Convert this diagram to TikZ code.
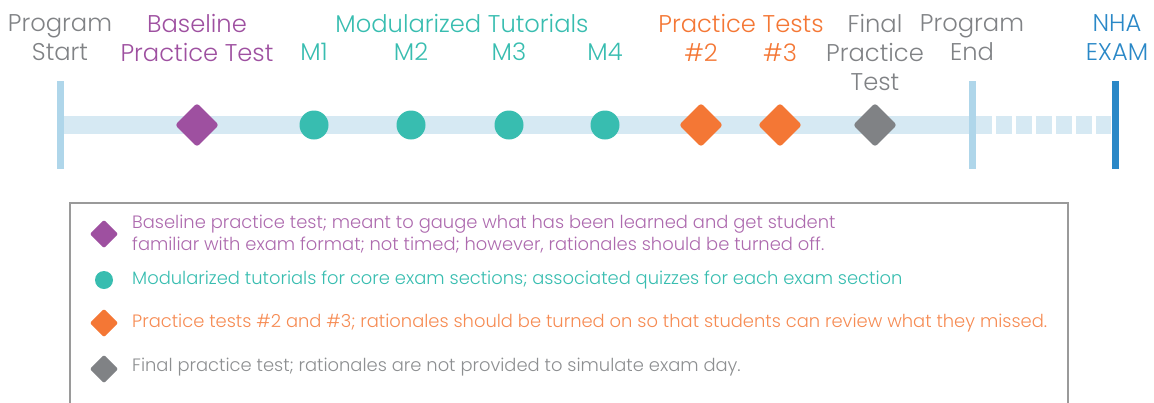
\documentclass[tikz,border=0pt]{standalone}
\usepackage{fontspec}
\IfFontExistsTF{Poppins Light}{\setmainfont{Poppins Light}}{\setmainfont{Poppins}}
\usetikzlibrary{positioning,backgrounds}
\definecolor{tlpurple}{HTML}{9E50A0}
\definecolor{tlteal}{HTML}{38BDB0}
\definecolor{tlorange}{HTML}{F47735}
\definecolor{tlgrey}{HTML}{808285}
\definecolor{tlblue}{HTML}{2A88C7}
\definecolor{tlbar}{HTML}{D6E9F3}
\definecolor{tlline}{HTML}{AFD6EA}
\definecolor{tlframe}{HTML}{9A9A9A}

\begin{document}
\begin{tikzpicture}[x=1pt, y=1pt]
    \tikzstyle{milestone} = [rectangle, draw=none, minimum width=7pt, minimum height=88pt, inner sep=0pt]
    \tikzstyle{testmark}  = [rectangle, rotate=45, rounded corners=3pt, minimum size=31pt, inner sep=0pt]
    \tikzstyle{tutmark}   = [circle, minimum size=29pt, inner sep=0pt]
    \tikzstyle{keytest}   = [rectangle, rotate=45, rounded corners=2pt, minimum size=20pt, inner sep=0pt]
    \tikzstyle{keytut}    = [circle, minimum size=18pt, inner sep=0pt]
    \tikzstyle{toplabel}  = [anchor=north, align=center, inner sep=0pt, font=\fontsize{24.2}{29}\selectfont]
    \tikzstyle{keytext}   = [anchor=west, align=left, inner sep=0pt, font=\fontsize{17.9}{22}\selectfont]
    \tikzstyle{bar}       = [line width=18pt, tlbar]

    \path[use as bounding box, clip] (0,0) rectangle (1154,-402);

    \coordinate (labeltop) at (0,-14);
    \coordinate (subtop) at (0,-43);

    % Timeline
    \node [milestone, fill=tlline] (start) at (60,-125) {};
    \node [milestone, fill=tlline] (progend) at (972,-125) {};
    \node [milestone, fill=tlblue] (exam) at (1115,-125) {};
    \begin{scope}[on background layer]
        \draw [bar] (start.center) -- (progend.center);
        \draw [bar, dash pattern=on 16pt off 4pt] (progend.east) -- (exam.west);
    \end{scope}

    \node [testmark, fill=tlpurple] (baseline) at (197,-125) {};
    \node [tutmark, fill=tlteal] (m1) at (314,-125) {};
    \node [tutmark, fill=tlteal] (m2) at (411,-125) {};
    \node [tutmark, fill=tlteal] (m3) at (509,-125) {};
    \node [tutmark, fill=tlteal] (m4) at (605,-125) {};
    \node [testmark, fill=tlorange] (pt2) at (701,-125) {};
    \node [testmark, fill=tlorange] (pt3) at (780,-125) {};
    \node [testmark, fill=tlgrey] (final) at (875,-125) {};

    % Labels
    \node [toplabel, text=tlgrey] (startlbl) at (start |- labeltop) {Program\\Start};
    \node [toplabel, text=tlpurple] (baselinelbl) at (baseline |- labeltop) {Baseline\\Practice Test};
    \node [toplabel, text=tlteal] (tutlbl) at (462,-14) {Modularized Tutorials};
    \node [toplabel, text=tlteal] (m1lbl) at (m1 |- subtop) {M1};
    \node [toplabel, text=tlteal] (m2lbl) at (m2 |- subtop) {M2};
    \node [toplabel, text=tlteal] (m3lbl) at (m3 |- subtop) {M3};
    \node [toplabel, text=tlteal] (m4lbl) at (m4 |- subtop) {M4};
    \node [toplabel, text=tlorange] (ptlbl) at (741,-14) {Practice Tests};
    \node [toplabel, text=tlorange] (pt2lbl) at (pt2 |- subtop) {\#2};
    \node [toplabel, text=tlorange] (pt3lbl) at (pt3 |- subtop) {\#3};
    \node [toplabel, text=tlgrey] (finallbl) at (final |- labeltop) {Final\\Practice\\Test};
    \node [toplabel, text=tlgrey] (endlbl) at (progend |- labeltop) {Program\\End};
    \node [toplabel, text=tlblue] (examlbl) at (1117,-14) {NHA\\EXAM};

    % Key
    \draw [tlframe, line width=1.3pt] (70,-410) |- (1068,-203) -- (1068,-410);
    \node [keytest, fill=tlpurple] (keybase) at (104,-234) {};
    \node [keytut, fill=tlteal] (keytut) at (104,-280) {};
    \node [keytest, fill=tlorange] (keypt) at (104,-323) {};
    \node [keytest, fill=tlgrey] (keyfinal) at (104,-369) {};
    \node [keytext, text=tlpurple!85] at (132,-234) {Baseline practice test; meant to gauge what has been learned and get student\\familiar with exam format; not timed; however, rationales should be turned off.};
    \node [keytext, text=tlteal] at (132,-280) {Modularized tutorials for core exam sections; associated quizzes for each exam section};
    \node [keytext, text=tlorange!85] at (132,-323) {Practice tests \#2 and \#3; rationales should be turned on so that students can review what they missed.};
    \node [keytext, text=tlgrey!90] at (132,-367) {Final practice test; rationales are not provided to simulate exam day.};
\end{tikzpicture}
\end{document}
